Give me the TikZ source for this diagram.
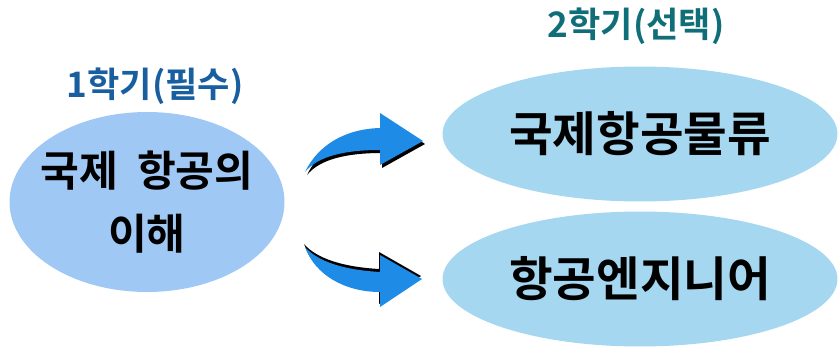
\documentclass[tikz,border=0pt]{standalone}
\usepackage{fontspec}
\setmainfont{Noto Sans CJK KR}[BoldFont={* Bold}]
\usetikzlibrary{shapes.geometric}

\definecolor{leftfill}{RGB}{160,200,245}
\definecolor{rightfill}{RGB}{165,215,240}
\definecolor{firstterm}{RGB}{25,95,160}
\definecolor{secondterm}{RGB}{15,110,120}
\definecolor{arrowblue}{RGB}{30,140,230}

\begin{document}
\begin{tikzpicture}[
    x=0.02cm, y=-0.02cm,
    course/.style={ellipse, inner sep=0pt, font=\bfseries\fontsize{24}{36}\selectfont,
        align=center, text=black},
    core/.style={course, fill=leftfill, inner xsep=-0.4cm,
        minimum width=5.5cm, minimum height=3.6cm},
    elective/.style={course, fill=rightfill, minimum width=7.9cm, minimum height=2.7cm,
        font=\bfseries\fontsize{27}{32}\selectfont},
    termlabel/.style={font=\bfseries\fontsize{20}{24}\selectfont},
    bentarrow/.style={fill=arrowblue},
    bentshadow/.style={fill=black}
        ]

    \path [use as bounding box] (0,0) rectangle (839,348);

    % semesters
    \node [termlabel, text=firstterm] (term1) at (155,86) {1학기(필수)};
    \node [termlabel, text=secondterm] (term2) at (636,26) {2학기(선택)};

    % courses
    \node [core] (intro) at (147,202) {국제\ \ 항공의\\이해};
    \node [elective] (logistics) at (640,134) {국제항공물류};
    \node [elective] (engineer) at (640,279) {항공엔지니어};

    % upper arrow
    \fill [bentshadow, shift={(2,3)}]
        (305,172) .. controls (318,145) and (345,129) .. (380,128)
        -- (380,113) -- (423,141) -- (380,165) -- (380,150)
        .. controls (345,150) and (318,156) .. (305,172) -- cycle;
    \fill [bentarrow]
        (305,172) .. controls (318,145) and (345,129) .. (380,128)
        -- (380,113) -- (423,141) -- (380,165) -- (380,150)
        .. controls (345,150) and (318,156) .. (305,172) -- cycle;

    % lower arrow
    \fill [bentshadow, shift={(-1,-3)}]
        (305,247) .. controls (318,262) and (345,270) .. (380,272)
        -- (380,255) -- (422,279) -- (380,307) -- (380,292)
        .. controls (345,292) and (315,275) .. (305,247) -- cycle;
    \fill [bentarrow]
        (305,247) .. controls (318,262) and (345,270) .. (380,272)
        -- (380,255) -- (422,279) -- (380,307) -- (380,292)
        .. controls (345,292) and (315,275) .. (305,247) -- cycle;

\end{tikzpicture}
\end{document}
